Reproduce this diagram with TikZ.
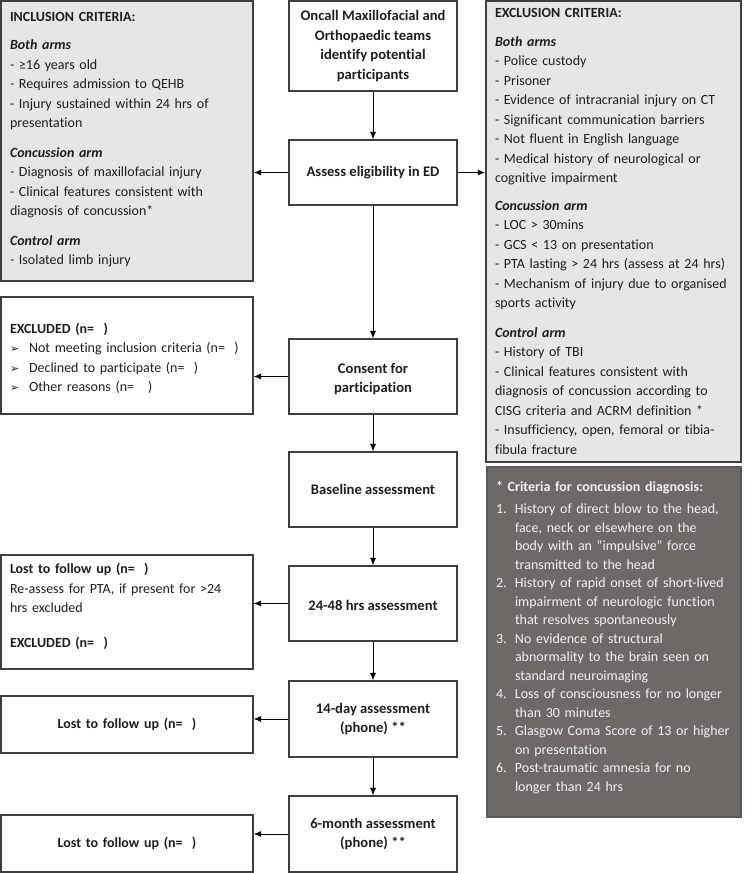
\documentclass[tikz,border=0pt]{standalone}
\usepackage{fontspec}
\setmainfont{Carlito}[Ligatures=NoCommon]
\newfontfamily\symfont{DejaVu Sans}
\usetikzlibrary{positioning, arrows.meta}
\definecolor{boxline}{HTML}{3F3F3F}
\definecolor{critgray}{HTML}{E6E6E6}
\definecolor{notegray}{HTML}{6E6867}
\definecolor{inktext}{HTML}{1E1E1E}
\newcommand{\arm}[1]{\textbf{\textit{#1}}}
\newcommand{\pick}{\makebox[19pt][l]{\symfont\fontsize{11}{11}\selectfont ➢}}
\newcommand{\critnum}[1]{\makebox[19pt][l]{#1}}
\begin{document}
\begin{tikzpicture}[x=1pt, y=1pt,
    font=\fontsize{14}{19.5}\selectfont, text=inktext,
    stepbox/.style={draw=boxline, line width=1.1pt, minimum width=168pt, minimum height=75pt, align=center, font=\fontsize{14.6}{19.5}\selectfont\bfseries},
    sidebox/.style={draw=boxline, line width=1.1pt, minimum width=252pt, inner xsep=9pt, text width=234pt, align=left},
    critbox/.style={sidebox, fill=critgray, line width=1.4pt},
    flow/.style={-{Latex[length=7.5pt, width=6pt]}, line width=1pt}]
    \useasboundingbox (0,0) rectangle (745,-873);
    % middle column
    \node[stepbox, minimum height=90pt] (oncall) at (373,-46) {Oncall Maxillofacial and\\ Orthopaedic teams\\ identify potential\\ participants};
    \node[stepbox, minimum height=65pt] (assess) at (373,-172.5) {Assess eligibility in ED};
    \node[stepbox] (consent) at (373,-376.5) {\rule{0pt}{15pt}Consent for\\ participation};
    \node[stepbox] (baseline) at (373,-489.5) {Baseline assessment};
    \node[stepbox] (hrs) at (373,-603.5) {\rule{0pt}{14pt}24-48 hrs assessment};
    \node[stepbox, minimum height=76pt] (day14) at (373,-719) {14-day assessment\\ (phone) **};
    \node[stepbox, minimum height=76pt] (month6) at (373,-834) {6-month assessment\\ (phone) **};
    % criteria boxes
    \node[critbox, minimum height=280pt] (incl) at (127,-141) {\textbf{INCLUSION CRITERIA:}\\[9pt]
        \arm{Both arms}\\
        - ≥16 years old\\
        - Requires admission to QEHB\\
        - Injury sustained within 24 hrs of\\
        presentation\\[10pt]
        \arm{Concussion arm}\\
        - Diagnosis of maxillofacial injury\\
        - Clinical features consistent with\\
        diagnosis of concussion*\\[10pt]
        \arm{Control arm}\\
        - Isolated limb injury\rule[-5pt]{0pt}{1pt}};
    \node[critbox, minimum width=255pt, text width=237pt, minimum height=461pt] (excl) at (613.5,-231.5) {\textbf{EXCLUSION CRITERIA:}\\[9pt]
        \arm{Both arms}\\
        - Police custody\\
        - Prisoner\\
        - Evidence of intracranial injury on CT\\
        - Significant communication barriers\\
        - Not fluent in English language\\
        - Medical history of neurological or\\
        cognitive impairment\\[8pt]
        \arm{Concussion arm}\\
        - LOC > 30mins\\
        - GCS < 13 on presentation\\
        - PTA lasting > 24 hrs (assess at 24 hrs)\\
        - Mechanism of injury due to organised\\
        sports activity\\[10pt]
        \arm{Control arm}\\
        - History of TBI\\
        - Clinical features consistent with\\
        diagnosis of concussion according to\\
        CISG criteria and ACRM definition *\\
        - Insufficiency, open, femoral or tibia-\\
        fibula fracture};
    \node[sidebox, draw=notegray!85!black, fill=notegray, text=white!95!black, minimum width=254pt, text width=236pt, minimum height=350pt, font=\fontsize{14}{18.5}\selectfont] (note) at (614,-642) {\textbf{* Criteria for concussion diagnosis:}\\[3.5pt]
        \critnum{1.}History of direct blow to the head,\\
        \critnum{}face, neck or elsewhere on the\\
        \critnum{}body with an “impulsive” force\\
        \critnum{}transmitted to the head\\
        \critnum{2.}History of rapid onset of short-lived\\
        \critnum{}impairment of neurologic function\\
        \critnum{}that resolves spontaneously\\
        \critnum{3.}No evidence of structural\\
        \critnum{}abnormality to the brain seen on\\
        \critnum{}standard neuroimaging\\
        \critnum{4.}Loss of consciousness for no longer\\
        \critnum{}than 30 minutes\\
        \critnum{5.}Glasgow Coma Score of 13 or higher\\
        \critnum{}on presentation\\
        \critnum{6.}Post-traumatic amnesia for no\\
        \critnum{}longer than 24 hrs\rule[-11pt]{0pt}{1pt}};
    % drop-out boxes
    \node[sidebox, minimum height=117pt] (excluded) at (127,-355.5) {\rule{0pt}{16pt}\textbf{EXCLUDED (n=\ \ )}\\
        \pick Not meeting inclusion criteria (n=\ \ )\\
        \pick Declined to participate (n=\ \ )\\
        \pick Other reasons (n=\ \ \ )};
    \node[sidebox, minimum height=114pt] (lost1) at (127,-612) {\textbf{Lost to follow up (n=\ \ )}\\
        Re-assess for PTA, if present for >24\\
        hrs excluded\\[15pt]
        \textbf{EXCLUDED (n=\ \ )}\rule[-13pt]{0pt}{1pt}};
    \node[sidebox, align=center, minimum height=57pt, font=\fontsize{14}{19.5}\selectfont\bfseries] (lost2) at (127,-724.5) {Lost to follow up (n=\ \ )};
    \node[sidebox, align=center, minimum height=57pt, font=\fontsize{14}{19.5}\selectfont\bfseries] (lost3) at (127,-843.5) {Lost to follow up (n=\ \ )};
    % connectors
    \draw[flow] (oncall) -- (assess);
    \draw[flow] (assess) -- (consent);
    \draw[flow] (consent) -- (baseline);
    \draw[flow] (baseline) -- (hrs);
    \draw[flow] (hrs) -- (day14);
    \draw[flow] (day14) -- (month6);
    \draw[flow] (assess) -- (assess -| incl.east);
    \draw[flow] (assess) -- (assess -| excl.west);
    \draw[flow] (consent) -- (consent -| excluded.east);
    \draw[flow] (hrs) -- (hrs -| lost1.east);
    \draw[flow] (day14) -- (day14 -| lost2.east);
    \draw[flow] (month6) -- (month6 -| lost3.east);
\end{tikzpicture}
\end{document}
